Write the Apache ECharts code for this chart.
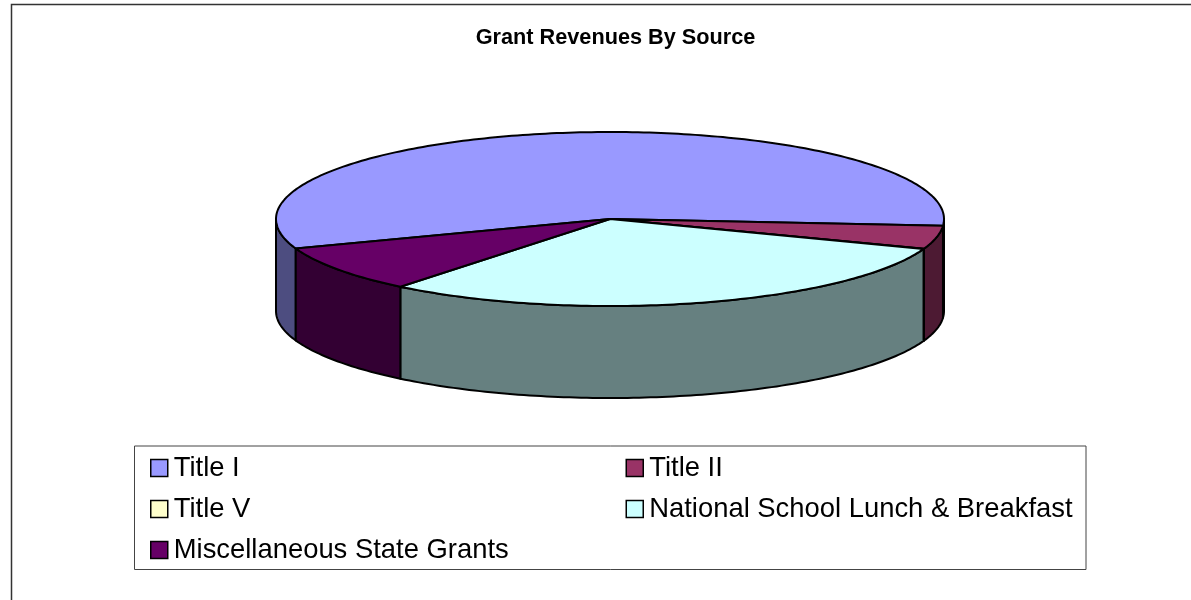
<!DOCTYPE html>
<html>
<head>
<meta charset="utf-8">
<style>html,body{margin:0;padding:0;background:#fff}#c{width:1191px;height:600px}</style>
<script src="https://cdn.jsdelivr.net/npm/echarts@6/dist/echarts.min.js"></script>
</head>
<body>
<div id="c"></div>
<script>
const categories = ['Title I', 'Title II', 'Title V', 'National School Lunch & Breakfast', 'Miscellaneous State Grants'];
const shares = [56.75, 4.3, 0.05, 30.2, 8.7];
const topColors = ['#9999FF', '#993366', '#FFFFCC', '#CCFFFF', '#660066'];
const wallColors = ['#4D4D80', '#4D1A33', '#808066', '#668080', '#330033'];
const legendColumns = [[0, 2, 4], [1, 3]];
const titleText = 'Grant Revenues By Source';

const pie = { cx: 610, cy: 219, rx: 334, ry: 87, depth: 92, startDeg: 160.2 };
const total = shares.reduce((a, b) => a + b, 0);
const rad = d => d * Math.PI / 180;
const pt = (deg, dy) => [pie.cx + pie.rx * Math.cos(rad(deg)), pie.cy + (dy || 0) + pie.ry * Math.sin(rad(deg))];
function arc(a, b, dy) {
  const n = Math.max(2, Math.ceil(Math.abs(b - a)));
  const out = [];
  for (let i = 0; i <= n; i++) out.push(pt(a + (b - a) * i / n, dy));
  return out;
}
const lineStyle = { stroke: '#000', lineWidth: 2, lineJoin: 'round' };

function renderSlice(idx) {
  return function () {
    let before = 0;
    for (let i = 0; i < idx; i++) before += shares[i];
    const a = pie.startDeg + before / total * 360;
    const b = a + shares[idx] / total * 360;
    const children = [];
    [[0, 180], [360, 540]].forEach(function (w) {
      const s = Math.max(a, w[0]), e = Math.min(b, w[1]);
      if (e > s) {
        const pts = arc(s, e, 0).concat(arc(e, s, pie.depth));
        children.push({ type: 'polygon', shape: { points: pts },
          style: Object.assign({ fill: wallColors[idx] }, lineStyle) });
      }
    });
    const topPts = [[pie.cx, pie.cy]].concat(arc(a, b, 0));
    children.push({ type: 'polygon', shape: { points: topPts },
      style: Object.assign({ fill: topColors[idx] }, lineStyle) });
    return { type: 'group', children: children };
  };
}

const legendBase = {
  orient: 'vertical', icon: 'rect', itemWidth: 17, itemHeight: 17, itemGap: 13, padding: 0,
  selectedMode: false,
  itemStyle: { borderColor: '#000', borderWidth: 1.5 },
  textStyle: { fontFamily: 'Liberation Sans', fontSize: 27.4, lineHeight: 28, color: '#000', padding: [0, 0, 0, 1] }
};

const chart = echarts.init(document.getElementById('c'), null, { renderer: 'canvas' });
chart.setOption({
  animation: false,
  backgroundColor: '#fff',
  title: {
    text: titleText, left: 615.5, top: 27, textAlign: 'center', padding: 0,
    textStyle: { fontFamily: 'Liberation Sans', fontSize: 21.7, fontWeight: 'bold', color: '#000' }
  },
  legend: [
    Object.assign({}, legendBase, { left: 150, top: 454, data: legendColumns[0].map(i => categories[i]) }),
    Object.assign({}, legendBase, { left: 625.5, top: 454, data: legendColumns[1].map(i => categories[i]) })
  ],
  graphic: [
    { type: 'polyline', silent: true, shape: { points: [[1191, 4.5], [11.5, 4.5], [11.5, 600]] },
      style: { stroke: '#333', lineWidth: 1.5, fill: null } },
    { type: 'rect', silent: true, z: -1, shape: { x: 134.5, y: 446, width: 951.5, height: 123.5 },
      style: { stroke: '#444', lineWidth: 1, fill: '#fff' } }
  ],
  series: categories.map(function (name, i) {
    return {
      type: 'custom', name: name, coordinateSystem: 'none', silent: true,
      itemStyle: { color: topColors[i] },
      data: [[shares[i]]],
      renderItem: renderSlice(i)
    };
  })
});
</script>
</body>
</html>
